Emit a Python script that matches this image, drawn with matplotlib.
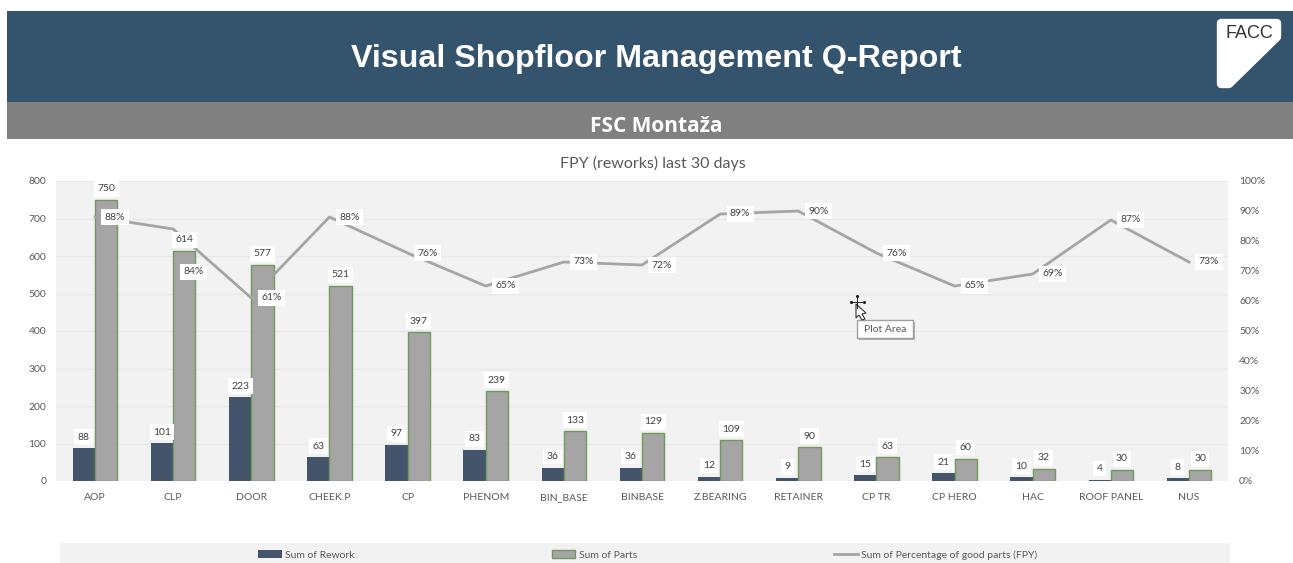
"""Visual shopfloor Q-report, FPY chart
"""

import matplotlib
matplotlib.use('Agg')
import matplotlib.pyplot as plt
from matplotlib.patches import Rectangle, PathPatch, Polygon
from matplotlib.path import Path
import numpy as np

categories = ['AOP', 'CLP', 'DOOR', 'CHEEK.P', 'CP', 'PHENOM', 'BIN_BASE', 'BINBASE',
              'Z.BEARING', 'RETAINER', 'CP TR', 'CP HERO', 'HAC', 'ROOF PANEL', 'NUS']
rework = [88, 101, 223, 63, 97, 83, 36, 36, 12, 9, 15, 21, 10, 4, 8]
parts = [750, 614, 577, 521, 397, 239, 133, 129, 109, 90, 63, 60, 32, 30, 30]
fpy = [88, 84, 61, 88, 76, 65, 73, 72, 89, 90, 76, 65, 69, 87, 73]

W, H = 1293, 563
navy = '#34536d'
txt = '#595959'

fig = plt.figure(figsize=(W/100, H/100), dpi=100)

# background in pixel coords
bg = fig.add_axes([0, 0, 1, 1], zorder=0)
bg.set_xlim(0, W)
bg.set_ylim(H, 0)
bg.axis('off')
bg.add_patch(Rectangle((7, 11), W-7, 91, color=navy, lw=0))
bg.add_patch(Rectangle((7, 102), W-7, 37, color='#808080', lw=0))
bg.add_patch(Rectangle((60, 543), 1170, 20, color='#f2f2f2', lw=0))
bg.text(656, 59, 'Visual Shopfloor Management Q-Report', color='white', ha='center', va='center',
        fontsize=23.2, fontweight='bold', family='Liberation Sans')
bg.text(656, 126, 'FSC Montaža', color='white', ha='center', va='center',
        fontsize=15, fontweight='bold', family='Open Sans')
bg.text(653, 163, 'FPY (reworks) last 30 days', color=txt, ha='center', va='center',
        fontsize=11.5, family='Lato')

# main chart
left, right, top, bottom = 56, 1228, 181, 481
ax = fig.add_axes([left/W, 1-bottom/H, (right-left)/W, (bottom-top)/H], zorder=1)
ax.set_facecolor('#f2f2f2')
x = np.arange(len(categories))
w = 0.285
ax.set_axisbelow(True)
ax.grid(axis='y', color='#e8e8e8', lw=1)
b1 = ax.bar(x-w/2, rework, w, color='#44546a', label='Sum of Rework')
b2 = ax.bar(x+w/2, parts, w, color='#a5a5a5', edgecolor='#6f9a5c', lw=1, label='Sum of Parts')
ax.set_xlim(-0.5, len(categories)-0.5)
ax.set_ylim(0, 800)
ax.set_yticks(range(0, 801, 100))
ax.set_xticks(x)
ax.set_xticklabels(categories, va='baseline')
ax.tick_params(length=0, labelsize=7.5, labelcolor=txt, labelfontfamily='Lato')
ax.tick_params(axis='x', pad=13.5)
ax.tick_params(axis='y', pad=7)
for s in ax.spines.values():
    s.set_visible(False)

ax2 = ax.twinx()
ax2.patch.set_visible(False)
line, = ax2.plot(x, fpy, color='#a5a5a5', lw=2, label='Sum of Percentage of good parts (FPY)')
ax2.set_ylim(0, 100)
ax2.set_yticks(range(0, 101, 10))
ax2.set_yticklabels([f'{v}%' for v in range(0, 101, 10)])
ax2.tick_params(length=0, labelsize=7.5, labelcolor=txt, pad=8, labelfontfamily='Lato')
for s in ax2.spines.values():
    s.set_visible(False)

box = dict(facecolor='white', edgecolor='none', pad=2.5)
lab = dict(textcoords='offset pixels', ha='center', va='center', fontsize=7.5, color='#404040',
           family='Lato', bbox=box, zorder=5, annotation_clip=False)
for xi, r, p in zip(x, rework, parts):
    ax2.annotate(str(r), (xi-w/2, r/8), xytext=(0, 11), **lab)
    ax2.annotate(str(p), (xi+w/2, p/8), xytext=(0, 11), **lab)
# CLP percentage label sits under the point
for i, (xi, v) in enumerate(zip(x, fpy)):
    off = (20, -43) if i == 1 else (20, 0)
    ax2.annotate(f'{v}%', (xi, v), xytext=off, **lab)

leg = fig.legend(handles=[b1, b2, line], loc='center', bbox_to_anchor=(647.5/W, 1-555/H), ncol=3,
                 frameon=False, columnspacing=18.9, handlelength=2.3, handletextpad=0.3,
                 labelcolor=txt, prop={'family': 'Lato', 'size': 7.5})

# logo + cursor overlay
top_ax = fig.add_axes([0, 0, 1, 1], zorder=3)
top_ax.set_xlim(0, W)
top_ax.set_ylim(H, 0)
top_ax.axis('off')
logo = Polygon([(1221, 23), (1277, 23), (1277, 37), (1229, 84), (1221, 84)], closed=True,
               facecolor='white', edgecolor='white', lw=6, joinstyle='round')
top_ax.add_patch(logo)
top_ax.text(1249, 34, 'FACC', color='#333333', ha='center', va='center', fontsize=13,
            family='Liberation Sans')
top_ax.add_patch(Rectangle((859, 322), 56, 18, facecolor='#b0b0b0', lw=0))
top_ax.add_patch(Rectangle((857, 320), 56, 18, facecolor='white', edgecolor='#a0a0a0', lw=1))
top_ax.text(885, 329, 'Plot Area', color=txt, ha='center', va='center', fontsize=7.5, family='Lato')
top_ax.scatter([857, 851, 864, 857], [296, 302, 302, 308], s=5, color='#222222', lw=0)
top_ax.plot([857, 857], [296, 308], color='#222222', lw=0.7)
top_ax.plot([851, 864], [302, 302], color='#222222', lw=0.7)
top_ax.add_patch(Polygon([(856, 304), (856, 318), (859, 315), (862, 320), (865, 319),
                          (862, 314), (866, 313)], facecolor='white', edgecolor='#333333', lw=0.8))

plt.savefig('out.png', dpi=100)
